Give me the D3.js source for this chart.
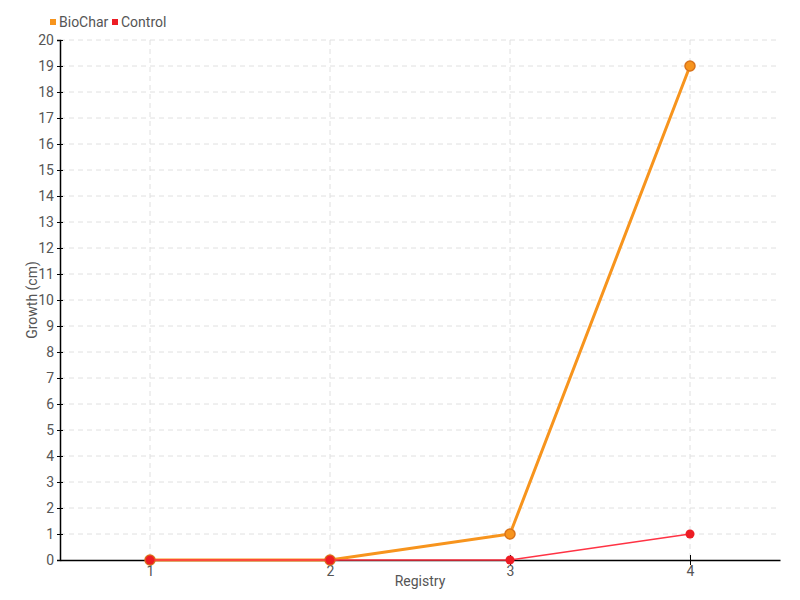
<!DOCTYPE html>
<html>
<head>
<meta charset="utf-8">
<script src="https://cdn.jsdelivr.net/npm/d3@7"></script>
<style>
body { margin: 0; background: #fff; }
text { font-family: Roboto, "Liberation Sans", sans-serif; font-size: 14px; fill: #555; }
</style>
</head>
<body>
<div class="container"></div>
<script>
let registry = ["1", "2", "3", "4"];
let biochar = [0, 0, 1, 19];
let control = [0, 0, 0, 1];
let yTicks = d3.range(0, 21);

let svg = d3.select(".container").append("svg")
    .attr("width", 800)
    .attr("height", 600);

let margin = {top: 40, right: 20, bottom: 40, left: 60};
let width = 800 - margin.left - margin.right,
    height = 600 - margin.top - margin.bottom;

let x = d3.scalePoint().domain(registry).range([0, width]).padding(0.5);
let y = d3.scaleLinear().domain([0, 20]).range([height, 0]);

let g = svg.append("g")
    .attr("transform", "translate(" + margin.left + "," + margin.top + ")");

// grid
g.append("g").selectAll("line.h")
    .data(yTicks.slice(1))
    .enter().append("line")
    .attr("x1", 0).attr("x2", width)
    .attr("y1", d => y(d)).attr("y2", d => y(d))
    .attr("stroke", "#e0e0e0").attr("stroke-dasharray", "5,4");

g.append("g").selectAll("line.v")
    .data(registry)
    .enter().append("line")
    .attr("x1", d => x(d)).attr("x2", d => x(d))
    .attr("y1", 0).attr("y2", height)
    .attr("stroke", "#e0e0e0").attr("stroke-dasharray", "5,4");

// axes
let yAxis = g.append("g")
    .call(d3.axisLeft(y).tickValues(yTicks).tickSize(3).tickPadding(3).tickFormat(d3.format("d")));
yAxis.attr("font-family", null).attr("font-size", null);
yAxis.selectAll("line").attr("x2", 3).attr("x1", -3).attr("stroke", "#000");
yAxis.select(".domain").attr("stroke", "#000").attr("stroke-width", 1.5);
yAxis.selectAll("text").attr("fill", null);

let xAxis = g.append("g")
    .attr("transform", "translate(0," + height + ")")
    .call(d3.axisBottom(x).tickSize(0).tickPadding(6));
xAxis.attr("font-family", null).attr("font-size", null);
xAxis.selectAll(".tick").append("line").attr("y1", -5).attr("y2", 5).attr("stroke", "#000");
xAxis.select(".domain").attr("stroke", "#000").attr("stroke-width", 1.5);
xAxis.selectAll("text").attr("fill", null);

// axis titles
svg.append("text")
    .attr("x", margin.left + width / 2)
    .attr("y", 586)
    .attr("text-anchor", "middle")
    .text("Registry");

svg.append("text")
    .attr("transform", "translate(37," + (margin.top + height / 2) + ") rotate(-90)")
    .attr("text-anchor", "middle")
    .text("Growth (cm)");

// lines
let line = d3.line()
    .x((d, i) => x(registry[i]))
    .y(d => y(d));

g.append("path")
    .datum(biochar)
    .attr("fill", "none")
    .attr("stroke", "#f7941d")
    .attr("stroke-width", 3)
    .attr("d", line);

g.selectAll("circle.bio")
    .data(biochar)
    .enter().append("circle")
    .attr("cx", (d, i) => x(registry[i]))
    .attr("cy", d => y(d))
    .attr("r", 5)
    .attr("fill", "#f7941d")
    .attr("stroke", "#d9731a")
    .attr("stroke-width", 1.5);

g.append("path")
    .datum(control)
    .attr("fill", "none")
    .attr("stroke", "#ff3344")
    .attr("stroke-width", 1.5)
    .attr("d", line);

g.selectAll("circle.ctl")
    .data(control)
    .enter().append("circle")
    .attr("cx", (d, i) => x(registry[i]))
    .attr("cy", d => y(d))
    .attr("r", 4.5)
    .attr("fill", "#ed1c24");

// legend
let legend = [["BioChar", "#f7941d", 50], ["Control", "#ed1c24", 112]];
legend.forEach(function (l) {
    svg.append("rect")
        .attr("x", l[2]).attr("y", 19)
        .attr("width", 6).attr("height", 6)
        .attr("fill", l[1]);
    svg.append("text")
        .attr("x", l[2] + 9).attr("y", 27)
        .text(l[0]);
});
</script>
</body>
</html>
